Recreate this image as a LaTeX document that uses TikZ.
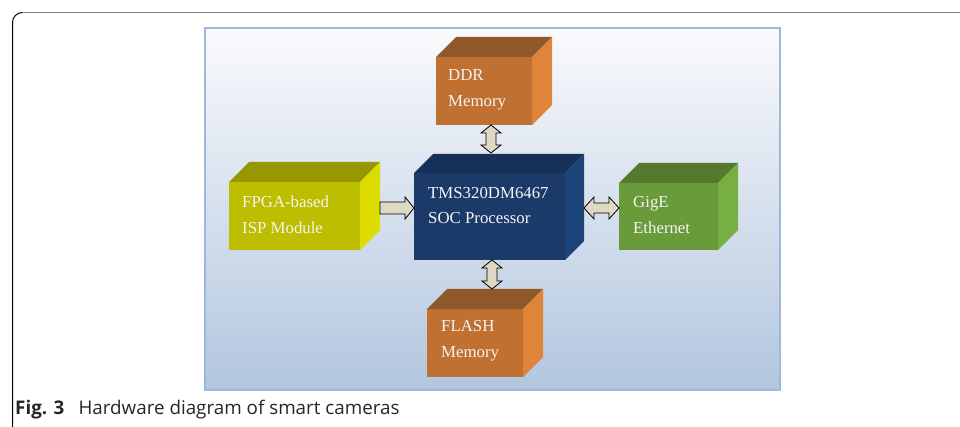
\documentclass[tikz,border=0pt]{standalone}
\usepackage{fontspec}
\setmainfont{Liberation Serif}
\newfontfamily\capfont{Open Sans}
\usetikzlibrary{calc}
\definecolor{panelTop}{HTML}{FAFAFC}
\definecolor{panelBot}{HTML}{B2C6DF}
\definecolor{panelLine}{HTML}{9CB8DA}
\definecolor{orFront}{HTML}{C07030}
\definecolor{orTop}{HTML}{8F5828}
\definecolor{orSide}{HTML}{E0843A}
\definecolor{yeFront}{HTML}{BEBE00}
\definecolor{yeTop}{HTML}{979700}
\definecolor{yeSide}{HTML}{DCDC00}
\definecolor{nvFront}{HTML}{1B3A6A}
\definecolor{nvTop}{HTML}{16305A}
\definecolor{nvSide}{HTML}{1D4478}
\definecolor{grFront}{HTML}{6A9B3B}
\definecolor{grTop}{HTML}{557A2E}
\definecolor{grSide}{HTML}{77AF42}
\definecolor{arrFill}{HTML}{DDD9C3}
\definecolor{txtWhite}{HTML}{F4F4F4}
\tikzset{
  face/.style={draw=none, inner sep=0pt, outer sep=0pt},
  boxtext/.style={text=txtWhite, inner sep=0pt, anchor=west, align=left,
    font=\fontsize{16.8}{25.5}\selectfont},
  barrow/.style={draw=black, line width=0.8pt, fill=arrFill, line join=miter},
}
\newcommand\cubefaces[4]{% name, top colour, side colour, depth
  \fill[#2] (#1.north west) -- ++(#4,-#4) -- ++($(#1.north east)-(#1.north west)$) -- (#1.north east) -- cycle;
  \fill[#3] (#1.north east) -- ++(#4,-#4) -- ++($(#1.south east)-(#1.north east)$) -- (#1.south east) -- cycle;
}
\begin{document}
\begin{tikzpicture}[x=1pt,y=-1pt]
\useasboundingbox (0,0) rectangle (960,427);
% outer frame
\draw[black, line width=1pt] (12.5,427) -- (12.5,22.5) arc[start angle=180, end angle=270, radius=10];
\draw[gray!95!black, line width=1.6pt] (22.5,12.5) -- (960,12.5);
% panel
\shade[top color=panelTop, bottom color=panelBot] (205,28) rectangle (780,390);
\draw[panelLine, line width=1.4pt] (205,28) rectangle (780,390);
% cubes
\node[face, fill=orFront, minimum width=96pt, minimum height=68pt] (ddr) at (484,91) {};
\cubefaces{ddr}{orTop}{orSide}{20}
\node[face, fill=yeFront, minimum width=131pt, minimum height=68pt] (fpga) at (294.5,216) {};
\cubefaces{fpga}{yeTop}{yeSide}{20}
\node[face, fill=nvFront, minimum width=151pt, minimum height=87pt] (soc) at (489.5,216.5) {};
\cubefaces{soc}{nvTop}{nvSide}{19}
\node[face, fill=grFront, minimum width=99pt, minimum height=67pt] (gige) at (668.5,216.5) {};
\cubefaces{gige}{grTop}{grSide}{20}
\node[face, fill=orFront, minimum width=96pt, minimum height=68pt] (flash) at (475,343) {};
\cubefaces{flash}{orTop}{orSide}{20}
% texts
\node[boxtext] (ddrT) at (448,90) {DDR\\Memory};
\node[boxtext] (fpgaT) at (242,215) {FPGA-based\\ISP Module};
\node[boxtext] (socT) at (428,205.5) {TMS320DM6467\\SOC Processor};
\node[boxtext] (gigeT) at (633,215) {GigE\\Ethernet};
\node[boxtext] (flashT) at (441,341) {FLASH\\Memory};
% connector end points
\coordinate (fpgaOut) at ($(fpga.east)+(20,-8)$);
\coordinate (socIn) at (soc.west |- fpgaOut);
\coordinate (socOut) at ($(soc.east)+(19,-8.5)$);
\coordinate (gigeIn) at (gige.west |- socOut);
\coordinate (ddrOut) at ($(ddr.south)+(7,0)$);
\coordinate (socTop) at ($(soc.north)+(1.5,-20)$);
\coordinate (socBot) at ($(soc.south)+(2.5,0)$);
\coordinate (flashTop) at ($(flash.north)+(17,-20)$);
% FPGA -> SOC single block arrow
\draw[barrow] let \p1=(fpgaOut), \p2=(socIn) in
  (\x1,\y1+6) -- (\x2-9,\y1+6) -- (\x2-9,\y1+11) -- (\x2,\y1) -- (\x2-9,\y1-11) -- (\x2-9,\y1-6) -- (\x1,\y1-6) -- cycle;
% SOC <-> GigE double block arrow
\draw[barrow] let \p1=(socOut), \p2=(gigeIn) in
  (\x1,\y1) -- (\x1+10,\y1+11) -- (\x1+10,\y1+5) -- (\x2-10,\y1+5) -- (\x2-10,\y1+11) -- (\x2,\y1)
  -- (\x2-10,\y1-11) -- (\x2-10,\y1-5) -- (\x1+10,\y1-5) -- (\x1+10,\y1-11) -- cycle;
% DDR <-> SOC double block arrow (vertical)
\draw[barrow] let \p1=(ddrOut), \p2=(socTop) in
  (\x1,\y1) -- (\x1+10,\y1-8) -- (\x1+5,\y1-8) -- (\x1+5,\y2+8) -- (\x1+10,\y2+8) -- (\x1,\y2)
  -- (\x1-10,\y2+8) -- (\x1-5,\y2+8) -- (\x1-5,\y1-8) -- (\x1-10,\y1-8) -- cycle;
% SOC <-> FLASH double block arrow (vertical)
\draw[barrow] let \p1=(socBot), \p2=(flashTop) in
  (\x1,\y1) -- (\x1+10,\y1-8) -- (\x1+5,\y1-8) -- (\x1+5,\y2+8) -- (\x1+10,\y2+8) -- (\x1,\y2)
  -- (\x1-10,\y2+8) -- (\x1-5,\y2+8) -- (\x1-5,\y1-8) -- (\x1-10,\y1-8) -- cycle;
% caption
\node[anchor=base west, inner sep=0pt, text=black!85,
  font=\capfont\fontsize{18.8}{20}\selectfont] (caption) at (15,414)
  {\textbf{Fig. 3}\hspace{0.75em}Hardware diagram of smart cameras};
\end{tikzpicture}
\end{document}
